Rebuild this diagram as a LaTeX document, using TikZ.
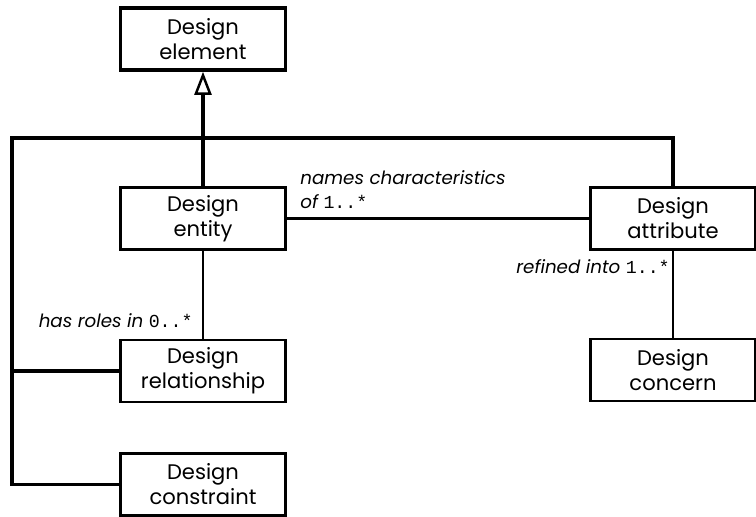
\documentclass[tikz,border=0pt]{standalone}
\usepackage{fontspec}
\setmainfont{Poppins}
\setmonofont{Liberation Mono}
\usepackage{tikz}
\usetikzlibrary{arrows.meta}

\begin{document}
\begin{tikzpicture}[line join=miter]
    \tikzstyle{cls} = [rectangle, minimum width=3.3cm, minimum height=1.24cm, text centered, align=center, draw=black, line width=1.4pt, fill=white, inner sep=0pt, font=\fontsize{12}{14.2}\selectfont]
    \tikzstyle{root} = [cls, line width=2pt]
    \tikzstyle{gen} = [draw=black, line width=2pt]
    \tikzstyle{assoc} = [draw=black, line width=1.4pt]
    \tikzstyle{role} = [inner sep=0pt, font=\fontsize{10.4}{13.6}\selectfont\itshape]

    \useasboundingbox (0,0) rectangle (15.12,10.32);

    % Classes
    \node [root] (element) at (4.06,9.54) {Design\\element};
    \node [cls] (entity) at (4.06,5.95) {Design\\entity};
    \node [cls] (attribute) at (13.46,5.95) {Design\\attribute};
    \node [cls] (relationship) at (4.06,2.90) {Design\\relationship};
    \node [cls] (concern) at (13.46,2.92) {Design\\concern};
    \node [cls] (constraint) at (4.06,0.63) {Design\\constraint};

    % Generalisation tree
    \coordinate (corner) at (0.24,7.56);
    \draw [gen] (constraint.west) -| (corner) -| (attribute.north);
    \draw [gen] (relationship.west) -- (relationship.west -| corner);
    \draw [gen] (entity.north) -- (entity.north |- corner);
    \draw [gen, -{Triangle[open, length=0.46cm, width=0.34cm, line width=1.4pt]}] (entity.north |- corner) -- (element.south);

    % Associations
    \draw [assoc] (entity.east) -- (attribute.west);
    \draw [assoc] (entity.south) -- (relationship.north);
    \draw [assoc] (attribute.south) -- (concern.north);

    % Role names
    \node [role, anchor=south west, align=left] (namesLbl) at (6.0,6.14) {names characteristics\\of \texttt{\upshape 1..*}};
    \node [role, anchor=base east] (rolesLbl) at (3.86,3.78) {has roles in \texttt{\upshape 0..*}};
    \node [role, anchor=base west] (refinedLbl) at (10.32,4.86) {refined into \texttt{\upshape 1..*}};
\end{tikzpicture}
\end{document}
